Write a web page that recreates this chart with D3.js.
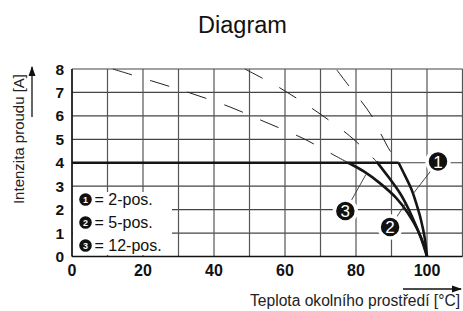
<!DOCTYPE html>
<html><head><meta charset="utf-8">
<script src="https://cdn.jsdelivr.net/npm/d3@7"></script>
<style>body{margin:0;background:#fff}svg{display:block}</style>
</head><body><svg id="c" width="463" height="311"></svg>
<script>
// ---- data ----
const title = "Diagram";
const yTitle = "Intenzita proudu [A]";
const xTitle = "Teplota okolního prostředí [°C]";
const xTickLabels = [0, 20, 40, 60, 80, 100];
const yTickLabels = [0, 1, 2, 3, 4, 5, 6, 7, 8];
const xGrid = [0,10,20,30,40,50,60,70,80,90,100,110];
const legendNums = ["1","2","3"];
const legendLabels = ["2-pos.", "5-pos.", "12-pos."];
// dashed continuation curves (temperature °C, current A)
const dash12T = [11.5, 22.5, 33.2, 44.5, 54.4, 64.8, 74.6, 77.8];
const dash12I = [8.0, 7.49, 6.98, 6.38, 5.74, 5.06, 4.26, 4.0];
const dash5T  = [48.7, 58.6, 67.9, 77.2, 81.7, 85.8];
const dash5I  = [8.0, 7.19, 6.29, 5.27, 4.67, 4.05];
const dash2T  = [74.6, 78.0, 81.4, 84.8, 87.0, 89.8, 92.0];
const dash2I  = [7.96, 7.28, 6.64, 5.91, 5.23, 4.46, 4.0];
// solid derating curves
const flatT = [0, 92.0];
const flatI = [4.0, 4.0];
const c2T  = [92.0, 93.8, 95.7, 97.1, 98.3, 99.3, 100];
const c2I  = [4.0, 3.45, 2.84, 2.2, 1.56, 0.84, 0];
const c5T  = [85.8, 89.1, 92.4, 94.7, 96.6, 98.5, 100];
const c5I  = [4.05, 3.40, 2.70, 2.06, 1.42, 0.70, 0];
const c12T = [77.8, 82.1, 86.8, 91.3, 94.6, 97.4, 99.2, 100];
const c12I = [4.0, 3.64, 3.12, 2.50, 1.86, 1.13, 0.45, 0];
// callouts: label, bubble position (°C, A), leader end on curve (°C, A)
const calloutNums = ["1", "2", "3"];
const calloutPosT = [103.1, 89.6, 77.0];
const calloutPosI = [4.05, 1.26, 1.94];
const calloutEndT = [96.1, 94.0, 82.8];
const calloutEndI = [2.68, 2.27, 3.5];

// ---- chart ----
const svg = d3.select("#c");
const font = "'Liberation Sans', Arial, sans-serif";
const x = d3.scaleLinear().domain([0, 110]).range([72, 462.5]);
const y = d3.scaleLinear().domain([0, 8]).range([256.5, 69]);
const zip = (a, b) => a.map((v, i) => [v, b[i]]);
const line = d3.line().x(d => x(d[0])).y(d => y(d[1]));

svg.append("text").attr("x", 242.5).attr("y", 33).attr("text-anchor", "middle")
  .attr("font-family", font).attr("font-size", 23.5).attr("fill", "#111").text(title);

// grid
const g = svg.append("g");
g.selectAll("line.h").data(yTickLabels).join("line")
  .attr("x1", x(0)).attr("x2", x(110)).attr("y1", d => y(d)).attr("y2", d => y(d))
  .attr("stroke", "#444").attr("stroke-width", 1.2);
g.selectAll("line.v").data(xGrid).join("line")
  .attr("x1", d => x(d)).attr("x2", d => x(d)).attr("y1", y(0)).attr("y2", y(8))
  .attr("stroke", "#555").attr("stroke-width", 1.2);
svg.append("line").attr("x1", x(0)).attr("x2", x(0)).attr("y1", y(0)).attr("y2", y(8)).attr("stroke", "#111").attr("stroke-width", 1.5);
svg.append("line").attr("x1", x(0)).attr("x2", x(110)).attr("y1", y(0)).attr("y2", y(0)).attr("stroke", "#111").attr("stroke-width", 1.5);

// tick labels
svg.selectAll("text.yt").data(yTickLabels).join("text")
  .attr("x", 64).attr("y", d => y(d)).attr("dy", "0.36em").attr("text-anchor", "end")
  .attr("font-family", font).attr("font-weight", "bold").attr("font-size", 15.5).attr("fill", "#111").text(d => d);
svg.selectAll("text.xt").data(xTickLabels).join("text")
  .attr("x", d => x(d)).attr("y", 275.5).attr("text-anchor", "middle")
  .attr("font-family", font).attr("font-weight", "bold").attr("font-size", 16).attr("fill", "#111").text(d => d);

// axis titles with arrows
svg.append("defs").append("marker").attr("id", "ah").attr("viewBox", "0 0 10 10")
  .attr("refX", 9).attr("refY", 5).attr("markerWidth", 10).attr("markerHeight", 10)
  .attr("markerUnits", "userSpaceOnUse").attr("orient", "auto")
  .append("path").attr("d", "M0,1.5L10,5L0,8.5Z").attr("fill", "#111");
svg.append("text").attr("transform", "translate(23.5,139) rotate(-90)").attr("text-anchor", "middle")
  .attr("font-family", font).attr("font-size", 15).attr("fill", "#222").text(yTitle);
svg.append("line").attr("x1", 32).attr("x2", 32).attr("y1", 117).attr("y2", 67)
  .attr("stroke", "#111").attr("stroke-width", 1.3).attr("marker-end", "url(#ah)");
svg.append("text").attr("x", 460).attr("y", 306).attr("text-anchor", "end")
  .attr("font-family", font).attr("font-size", 15.6).attr("fill", "#222").text(xTitle);
svg.append("line").attr("x1", 403).attr("x2", 461).attr("y1", 289).attr("y2", 289)
  .attr("stroke", "#111").attr("stroke-width", 1.3).attr("marker-end", "url(#ah)");

// dashed curves
[[dash12T, dash12I], [dash5T, dash5I], [dash2T, dash2I]].forEach(([t, i]) => {
  svg.append("path").attr("d", line.curve(d3.curveCatmullRom)(zip(t, i)))
    .attr("fill", "none").attr("stroke", "#222").attr("stroke-width", 1)
    .attr("stroke-dasharray", "20,19");
});
// solid curves
svg.append("path").attr("d", line.curve(d3.curveLinear)(zip(flatT, flatI)))
  .attr("fill", "none").attr("stroke", "#151515").attr("stroke-width", 2.6);
[[c12T, c12I], [c5T, c5I], [c2T, c2I]].forEach(([t, i]) => {
  svg.append("path").attr("d", line.curve(d3.curveCatmullRom)(zip(t, i)))
    .attr("fill", "none").attr("stroke", "#151515").attr("stroke-width", 2.6).attr("stroke-linejoin", "round");
});

// legend box
svg.append("rect").attr("x", 73).attr("y", 192).attr("width", 99).attr("height", 63).attr("fill", "#fff");
legendNums.forEach((n, k) => {
  const cy = 199.5 + k * 23;
  svg.append("circle").attr("cx", 85.5).attr("cy", cy).attr("r", 6.3).attr("fill", "#111");
  svg.append("text").attr("x", 85.5).attr("y", cy).attr("dy", "0.36em").attr("text-anchor", "middle")
    .attr("font-family", font).attr("font-weight", "bold").attr("font-size", 9).attr("fill", "#fff").text(n);
  svg.append("text").attr("x", 94.5).attr("y", cy).attr("dy", "0.36em")
    .attr("font-family", font).attr("font-size", 16).attr("fill", "#111").text("= " + legendLabels[k]);
});

// callouts
calloutNums.forEach((n, k) => {
  const cx = x(calloutPosT[k]), cy = y(calloutPosI[k]);
  svg.append("line").attr("x1", cx).attr("y1", cy).attr("x2", x(calloutEndT[k])).attr("y2", y(calloutEndI[k]))
    .attr("stroke", "#333").attr("stroke-width", 0.9);
  svg.append("circle").attr("cx", cx).attr("cy", cy).attr("r", 11).attr("fill", "#111")
    .attr("stroke", "#fff").attr("stroke-width", 3.5);
  svg.append("text").attr("x", cx).attr("y", cy).attr("dy", "0.36em").attr("text-anchor", "middle")
    .attr("font-family", font).attr("font-size", 17).attr("fill", "#fff").text(n);
});
</script></body></html>
